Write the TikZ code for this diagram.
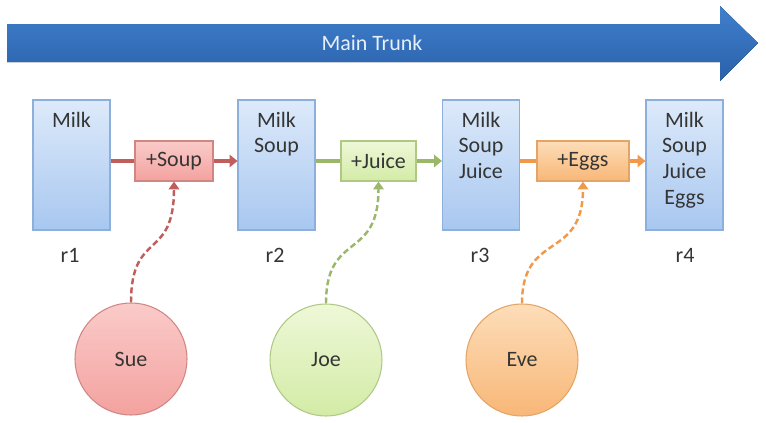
\documentclass[tikz,border=0pt]{standalone}
\usepackage{fontspec}
\setmainfont{Carlito}
\usetikzlibrary{positioning,arrows.meta}
\definecolor{ink}{HTML}{353535}
\definecolor{trunktop}{HTML}{4080CC}
\definecolor{trunkbot}{HTML}{2A60AA}
\definecolor{trunktxt}{HTML}{E6EFFA}
\definecolor{revtop}{HTML}{DDEAFA}
\definecolor{revbot}{HTML}{A8C7F0}
\definecolor{revline}{HTML}{8CAFDB}
\definecolor{souptop}{HTML}{FACBC9}
\definecolor{soupbot}{HTML}{F3A29F}
\definecolor{soupline}{HTML}{D08784}
\definecolor{soupdark}{HTML}{BF5E5A}
\definecolor{juicetop}{HTML}{EEF8D8}
\definecolor{juicebot}{HTML}{D3EBA6}
\definecolor{juiceline}{HTML}{AFC985}
\definecolor{juicedark}{HTML}{9BB86A}
\definecolor{eggtop}{HTML}{FDDDB9}
\definecolor{eggbot}{HTML}{F8B777}
\definecolor{eggline}{HTML}{E4A465}
\definecolor{eggdark}{HTML}{F0994A}

\begin{document}
\begin{tikzpicture}[scale=0.2]
\tikzstyle{every node}+=[inner sep=0pt, text=ink, font=\fontsize{12.5}{14.7}\selectfont]
\tikzstyle{rev}=[draw=revline, line width=0.6pt, top color=revtop, bottom color=revbot, minimum width=1.54cm, minimum height=2.6cm]
\tikzstyle{chg}=[line width=0.6pt, minimum height=0.8cm]
\tikzstyle{who}=[circle, line width=0.6pt, minimum size=2.24cm]
\tikzstyle{flow}=[line width=2pt]
\tikzstyle{push}=[line width=1.4pt, dash pattern=on 3.4pt off 1.8pt, -{Triangle[length=4.5pt,width=6pt]}]
\useasboundingbox (0,0) rectangle (76.6,-42.2);

\fill [top color=trunktop, bottom color=trunkbot] (0.7,-2.4) -- (72,-2.4) -- (72,-0.6) -- (75.8,-4.3) -- (72,-8.1) -- (72,-6.2) -- (0.7,-6.2) -- cycle;
\node [text=trunktxt] (trunk) at (37.2,-4.3) {Main Trunk};

\node [rev] (r1) at (7.15,-16.5) {};
\node [rev] (r2) at (27.65,-16.5) {};
\node [rev] (r3) at (48.1,-16.5) {};
\node [rev] (r4) at (68.45,-16.5) {};
\node [below=0.24cm of r1.north, align=center] (t1) {Milk};
\node [below=0.24cm of r2.north, align=center] (t2) {Milk\\Soup};
\node [below=0.24cm of r3.north, align=center] (t3) {Milk\\Soup\\Juice};
\node [below=0.24cm of r4.north, align=center] (t4) {Milk\\Soup\\Juice\\Eggs};
\node (n1) at (7.0,-25.5) {r1};
\node (n2) at (27.5,-25.5) {r2};
\node (n3) at (48.0,-25.5) {r3};
\node (n4) at (68.5,-25.5) {r4};

\node [chg, draw=soupline, top color=souptop, bottom color=soupbot, minimum width=1.56cm] (soup) at (17.4,-16.1) {+Soup};
\node [chg, draw=juiceline, top color=juicetop, bottom color=juicebot, minimum width=1.5cm] (juice) at (37.85,-16.1) {+Juice};
\node [chg, draw=eggline, top color=eggtop, bottom color=eggbot, minimum width=1.84cm] (eggs) at (58.3,-16.1) {+Eggs};

\draw [flow, soupdark] (r1.east |- soup.west) -- (soup.west);
\draw [flow, soupdark, -{Triangle[length=4.5pt,width=7pt]}] (soup.east) -- (r2.west |- soup.east);
\draw [flow, juicedark] (r2.east |- juice.west) -- (juice.west);
\draw [flow, juicedark, -{Triangle[length=4.5pt,width=7pt]}] (juice.east) -- (r3.west |- juice.east);
\draw [flow, eggdark] (r3.east |- eggs.west) -- (eggs.west);
\draw [flow, eggdark, -{Triangle[length=4.5pt,width=7pt]}] (eggs.east) -- (r4.west |- eggs.east);

\node [who, draw=soupline, top color=souptop, bottom color=soupbot] (sue) at (13.1,-35.9) {Sue};
\node [who, draw=juiceline, top color=juicetop, bottom color=juicebot] (joe) at (32.6,-36) {Joe};
\node [who, draw=eggline, top color=eggtop, bottom color=eggbot] (eve) at (52.2,-36) {Eve};

\draw [push, soupdark] (sue.north) .. controls +(0,7.3) and +(0,-8) .. (soup.south);
\draw [push, juicedark] (joe.north) .. controls +(0,7.3) and +(0,-8) .. (juice.south);
\draw [push, eggdark] (eve.north) .. controls +(0,7.3) and +(0,-8) .. (eggs.south);
\end{tikzpicture}
\end{document}
